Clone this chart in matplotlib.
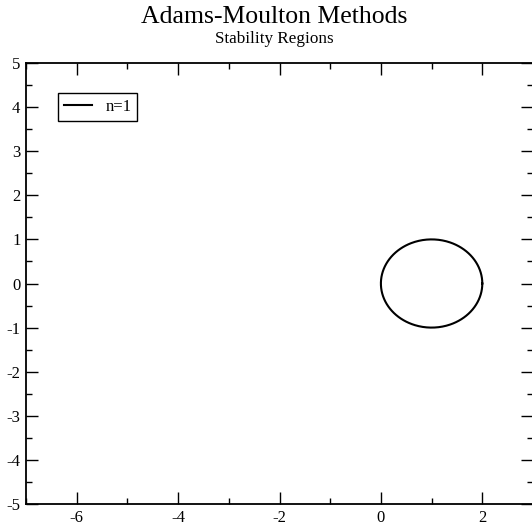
import numpy as np
import matplotlib.pyplot as plt
from matplotlib.ticker import MultipleLocator

plt.rcParams['font.family'] = ['Liberation Serif', 'DejaVu Serif']

# stability boundary of the 1-step method: circle |z - 1| = 1
center = (1.0, 0.0)
radius = 1.0
series_label = 'n=1'
x_ticks = [-6, -4, -2, 0, 2]
y_ticks = [-5, -4, -3, -2, -1, 0, 1, 2, 3, 4, 5]

theta = np.linspace(0, 2 * np.pi, 400)
re = center[0] + radius * np.cos(theta)
im = center[1] + radius * np.sin(theta)

fig = plt.figure(figsize=(5.32, 5.25), dpi=100)
ax = fig.add_axes([26 / 532, 21 / 525, 507 / 532, 441 / 525])

ax.plot(re, im, color='black', lw=1.5, label=series_label)

ax.set_xlim(-7, 3)
ax.set_ylim(-5, 5)
ax.set_xticks(x_ticks)
ax.set_yticks(y_ticks)
ax.set_xticklabels([str(t) for t in x_ticks])
ax.set_yticklabels([str(t) for t in y_ticks])
ax.xaxis.set_minor_locator(MultipleLocator(1))
ax.yaxis.set_minor_locator(MultipleLocator(0.5))
ax.tick_params(which='both', direction='in', top=True, right=True,
               labelsize=12, width=1.0, color='black')
ax.tick_params(which='major', length=8.5)
ax.tick_params(which='minor', length=4.5)
ax.tick_params(axis='x', which='major', pad=4)
ax.tick_params(axis='y', which='major', pad=4)
for s in ax.spines.values():
    s.set_linewidth(1.3)

leg = ax.legend(loc='upper left', bbox_to_anchor=(0.063, 0.932),
                fancybox=False, edgecolor='black', framealpha=1,
                fontsize=12, handlelength=1.7, handletextpad=0.8,
                borderpad=0.35, borderaxespad=0)
leg.get_frame().set_linewidth(1.0)

fig.text(274.5 / 532, 1 - 17 / 525, 'Adams-Moulton Methods', ha='center',
         va='center', fontsize=18.5)
fig.text(274.5 / 532, 1 - 39 / 525, 'Stability Regions', ha='center',
         va='center', fontsize=12.3)

fig.savefig('out.png', dpi=100)
